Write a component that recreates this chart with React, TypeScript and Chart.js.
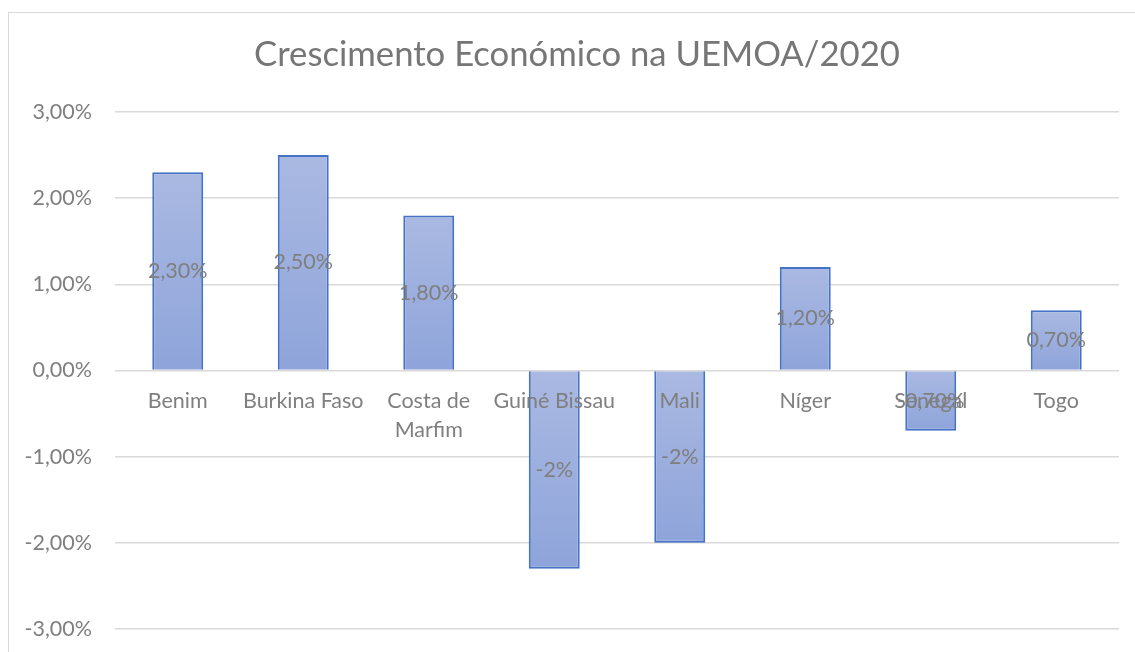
import React, { useEffect, useRef } from "react";
import { Chart, registerables } from "chart.js";

Chart.register(...registerables);

const TITLE = "Crescimento Económico na UEMOA/2020";
const categories: (string | string[])[] = [
  "Benim",
  "Burkina Faso",
  ["Costa de", "Marfim"],
  "Guiné Bissau",
  "Mali",
  "Níger",
  "Senegal",
  "Togo",
];
const growth = [2.3, 2.5, 1.8, -2.3, -2.0, 1.2, -0.7, 0.7];
const valueLabels = ["2,30%", "2,50%", "1,80%", "-2%", "-2%", "1,20%", "-0,70%", "0,70%"];
const yMin = -3;
const yMax = 3;
const yStep = 1;

const FONT = "Lato, 'Open Sans', sans-serif";
const TEXT = "#7f7f7f";

export default function App() {
  const ref = useRef<HTMLCanvasElement | null>(null);

  useEffect(() => {
    if (!ref.current) return;

    const titlePlugin = {
      id: "fixedTitle",
      afterDraw(chart: any) {
        const ctx = chart.ctx;
        ctx.save();
        ctx.font = `34.7px ${FONT}`;
        ctx.fillStyle = "#767676";
        ctx.textAlign = "center";
        ctx.textBaseline = "alphabetic";
        ctx.fillText(TITLE, 577, 66);
        ctx.restore();
      },
    };

    const valueLabelPlugin = {
      id: "valueLabels",
      afterDatasetsDraw(chart: any) {
        const ctx = chart.ctx;
        const meta = chart.getDatasetMeta(0);
        ctx.save();
        ctx.font = `21.5px ${FONT}`;
        ctx.fillStyle = TEXT;
        ctx.textAlign = "center";
        ctx.textBaseline = "middle";
        meta.data.forEach((bar: any, i: number) => {
          const p = bar.getProps(["x", "y", "base"], true);
          ctx.fillText(valueLabels[i], p.x, (p.y + p.base) / 2);
        });
        ctx.restore();
      },
    };

    const chart = new Chart(ref.current, {
      type: "bar",
      data: {
        labels: categories as any,
        datasets: [
          {
            data: growth,
            backgroundColor: (c: any) => {
              const ch = c.chart;
              if (!ch.chartArea || c.raw === undefined) return "#9aaedd";
              const ys = ch.scales.y;
              const v = c.raw as number;
              const top = ys.getPixelForValue(Math.max(v, 0));
              const bot = ys.getPixelForValue(Math.min(v, 0));
              const g = ch.ctx.createLinearGradient(0, top, 0, bot);
              g.addColorStop(0, "#aab9e2");
              g.addColorStop(1, "#8ea4da");
              return g;
            },
            borderColor: "#4472c4",
            borderWidth: 2,
            barPercentage: 0.406,
            categoryPercentage: 1,
          },
        ],
      },
      options: {
        animation: false,
        responsive: false,
        devicePixelRatio: 1,
        layout: { padding: { top: 112, left: 0, right: 16, bottom: 23 } },
        plugins: {
          legend: { display: false },
          title: { display: false },
          tooltip: { enabled: false },
        },
        scales: {
          x: {
            position: { y: 0 } as any,
            afterFit: (s: any) => {
              s.height = 0;
            },
            grid: { display: false, drawTicks: false },
            border: { display: false },
            ticks: {
              z: 1,
              color: TEXT,
              font: { family: FONT, size: 21.5, lineHeight: 1.35 },
              padding: 16,
              maxRotation: 0,
              autoSkip: false,
            },
          },
          y: {
            min: yMin,
            max: yMax,
            afterFit: (s: any) => {
              s.width = 115;
              s.paddingTop = 14;
              s.paddingBottom = 14;
            },
            grid: { color: "#d9d9d9", lineWidth: 1.5, drawTicks: false },
            border: { display: false },
            ticks: {
              stepSize: yStep,
              color: TEXT,
              font: { family: FONT, size: 21.5 },
              padding: 23,
              callback: (v: any) => Number(v).toFixed(2).replace(".", ",") + "%",
            },
          },
        },
      },
      plugins: [titlePlugin, valueLabelPlugin],
    });

    return () => chart.destroy();
  }, []);

  return (
    <div
      style={{
        position: "fixed",
        left: 0,
        top: 0,
        width: 1135,
        height: 652,
        overflow: "hidden",
        background: "#ffffff",
      }}
    >
      <div
        style={{
          position: "absolute",
          left: 8,
          top: 12,
          width: 1300,
          height: 800,
          border: "1.5px solid #d9d9d9",
        }}
      />
      <canvas
        ref={ref}
        width={1135}
        height={652}
        style={{ position: "absolute", left: 0, top: 0 }}
      />
    </div>
  );
}
